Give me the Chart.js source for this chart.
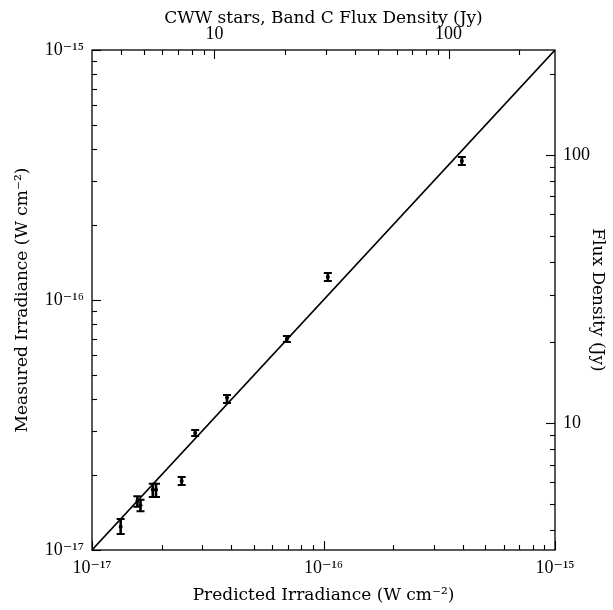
<!DOCTYPE html>
<html>
<head>
<meta charset="utf-8">
<script src="https://cdn.jsdelivr.net/npm/chart.js@4.4.1/dist/chart.umd.min.js"></script>
<style>
  html, body { margin: 0; padding: 0; background: #fff; }
  #wrap { width: 613px; height: 610px; }
</style>
</head>
<body>
<div id="wrap"><canvas id="c" width="613" height="610"></canvas></div>
<script>
// ---- data ----
const predicted = [1.33e-17, 1.57e-17, 1.62e-17, 1.83e-17, 1.89e-17, 2.44e-17, 2.79e-17, 3.83e-17, 6.95e-17, 1.044e-16, 3.96e-16];
const measured  = [1.24e-17, 1.57e-17, 1.51e-17, 1.74e-17, 1.74e-17, 1.89e-17, 2.94e-17, 4.06e-17, 6.98e-17, 1.236e-16, 3.60e-16];
const measuredLow  = [1.16e-17, 1.49e-17, 1.43e-17, 1.63e-17, 1.63e-17, 1.82e-17, 2.86e-17, 3.87e-17, 6.79e-17, 1.191e-16, 3.47e-16];
const measuredHigh = [1.33e-17, 1.64e-17, 1.59e-17, 1.84e-17, 1.84e-17, 1.96e-17, 3.02e-17, 4.17e-17, 7.17e-17, 1.282e-16, 3.73e-16];
const equalityLine = [1e-17, 1e-15];

// axis ranges
const irrMin = 1e-17, irrMax = 1e-15;
const topFluxMin = 3.0, topFluxMax = 285;
const rightFluxMin = 3.36, rightFluxMax = 246;

// tick values and labels
const irrTickValues = [1e-17,2e-17,3e-17,4e-17,5e-17,6e-17,7e-17,8e-17,9e-17,
                       1e-16,2e-16,3e-16,4e-16,5e-16,6e-16,7e-16,8e-16,9e-16,1e-15];
const irrMajorTicks = [1e-17, 1e-16, 1e-15];
const irrTickLabels = ['10\u207B\u00B9\u2077', '10\u207B\u00B9\u2076', '10\u207B\u00B9\u2075'];
const fluxTickValues = [4,5,6,7,8,9,10,20,30,40,50,60,70,80,90,100,200];
const fluxMajorTicks = [10, 100];
const fluxTickLabels = ['10', '100'];

const xTitle = 'Predicted Irradiance (W cm\u207B\u00B2)';
const yTitle = 'Measured Irradiance (W cm\u207B\u00B2)';
const topTitle = 'CWW stars, Band C Flux Density (Jy)';
const rightTitle = 'Flux Density (Jy)';

const TICKFONT = "'Liberation Serif', 'DejaVu Serif', serif";
const TITLEFONT = "'DejaVu Serif', 'Liberation Serif', serif";

function near(a, b) { return Math.abs(Math.log10(a) - Math.log10(b)) < 1e-6; }
function labelFor(v, majors, labels) {
  for (let i = 0; i < majors.length; i++) if (near(v, majors[i])) return labels[i];
  return '';
}
function setTicks(values) {
  return function(scale) { scale.ticks = values.map(v => ({ value: v })); };
}

const inwardTicks = {
  id: 'inwardTicks',
  afterDraw(chart) {
    const ctx = chart.ctx;
    const a = chart.chartArea;
    ctx.save();
    ctx.strokeStyle = '#000';
    ctx.lineWidth = 1.3;
    ctx.strokeRect(a.left, a.top, a.right - a.left, a.bottom - a.top);
    const cfg = [
      { id: 'x',  majors: irrMajorTicks,  side: 'bottom' },
      { id: 'y',  majors: irrMajorTicks,  side: 'left' },
      { id: 'x2', majors: fluxMajorTicks, side: 'top' },
      { id: 'y2', majors: fluxMajorTicks, side: 'right' }
    ];
    ctx.lineWidth = 1.1;
    cfg.forEach(c => {
      const s = chart.scales[c.id];
      s.ticks.forEach(t => {
        const major = c.majors.some(m => near(m, t.value));
        const len = major ? 9 : 5;
        const p = Math.round(s.getPixelForValue(t.value)) + 0.5;
        ctx.beginPath();
        if (c.side === 'bottom') { ctx.moveTo(p, a.bottom); ctx.lineTo(p, a.bottom - len); }
        if (c.side === 'top')    { ctx.moveTo(p, a.top);    ctx.lineTo(p, a.top + len); }
        if (c.side === 'left')   { ctx.moveTo(a.left, p);   ctx.lineTo(a.left + len, p); }
        if (c.side === 'right')  { ctx.moveTo(a.right, p);  ctx.lineTo(a.right - len, p); }
        ctx.stroke();
      });
    });
    ctx.restore();
  }
};

const errorBars = {
  id: 'errorBars',
  afterDatasetsDraw(chart) {
    const ctx = chart.ctx;
    const xs = chart.scales.x, ys = chart.scales.y;
    ctx.save();
    ctx.strokeStyle = '#000';
    for (let i = 0; i < predicted.length; i++) {
      const px = xs.getPixelForValue(predicted[i]);
      const yl = ys.getPixelForValue(measuredLow[i]);
      const yh = ys.getPixelForValue(measuredHigh[i]);
      ctx.lineWidth = 2.6;
      ctx.beginPath(); ctx.moveTo(px, yl); ctx.lineTo(px, yh); ctx.stroke();
      ctx.lineWidth = 2;
      ctx.beginPath();
      ctx.moveTo(px - 4, yl); ctx.lineTo(px + 4, yl);
      ctx.moveTo(px - 4, yh); ctx.lineTo(px + 4, yh);
      ctx.stroke();
    }
    ctx.restore();
  }
};

new Chart(document.getElementById('c'), {
  type: 'scatter',
  data: {
    datasets: [
      {
        label: 'Measured = Predicted',
        data: equalityLine.map(v => ({ x: v, y: v })),
        showLine: true,
        borderColor: '#000',
        borderWidth: 1.6,
        pointRadius: 0,
        xAxisID: 'x', yAxisID: 'y'
      },
      {
        label: 'CWW stars',
        data: predicted.map((v, i) => ({ x: v, y: measured[i] })),
        backgroundColor: '#000',
        borderColor: '#000',
        pointRadius: 2,
        pointBorderWidth: 0,
        xAxisID: 'x', yAxisID: 'y'
      }
    ]
  },
  options: {
    responsive: false,
    animation: false,
    devicePixelRatio: 1,
    layout: { padding: 0 },
    plugins: { legend: { display: false }, tooltip: { enabled: false } },
    scales: {
      x: {
        type: 'logarithmic', position: 'bottom', min: irrMin, max: irrMax,
        afterBuildTicks: setTicks(irrTickValues),
        afterFit: s => { s.height = 60; },
        grid: { display: false, drawTicks: false },
        border: { display: false },
        ticks: { autoSkip: false, maxRotation: 0, padding: 7, color: '#000',
                 font: { family: TICKFONT, size: 18 },
                 callback: v => labelFor(v, irrMajorTicks, irrTickLabels) },
        title: { display: true, text: xTitle, color: '#000', padding: { top: 0, bottom: 4 },
                 font: { family: TITLEFONT, size: 17 } }
      },
      y: {
        type: 'logarithmic', position: 'left', min: irrMin, max: irrMax,
        afterBuildTicks: setTicks(irrTickValues),
        afterFit: s => { s.width = 92; },
        grid: { display: false, drawTicks: false },
        border: { display: false },
        ticks: { autoSkip: false, padding: 8, color: '#000',
                 font: { family: TICKFONT, size: 18 },
                 callback: v => labelFor(v, irrMajorTicks, irrTickLabels) },
        title: { display: true, text: yTitle, color: '#000', padding: { top: 12, bottom: 0 },
                 font: { family: TITLEFONT, size: 17 } }
      },
      x2: {
        type: 'logarithmic', position: 'top', min: topFluxMin, max: topFluxMax,
        afterBuildTicks: setTicks(fluxTickValues),
        afterFit: s => { s.height = 50; },
        grid: { display: false, drawTicks: false },
        border: { display: false },
        ticks: { autoSkip: false, maxRotation: 0, padding: 5, color: '#000',
                 font: { family: TICKFONT, size: 18 },
                 callback: v => labelFor(v, fluxMajorTicks, fluxTickLabels) },
        title: { display: true, text: topTitle, color: '#000', padding: { top: 8, bottom: 0 },
                 font: { family: TITLEFONT, size: 17 } }
      },
      y2: {
        type: 'logarithmic', position: 'right', min: rightFluxMin, max: rightFluxMax,
        afterBuildTicks: setTicks(fluxTickValues),
        afterFit: s => { s.width = 58; },
        grid: { display: false, drawTicks: false },
        border: { display: false },
        ticks: { autoSkip: false, padding: 8, color: '#000',
                 font: { family: TICKFONT, size: 18 },
                 callback: v => labelFor(v, fluxMajorTicks, fluxTickLabels) },
        title: { display: true, text: rightTitle, color: '#000', padding: { top: 5, bottom: 0 },
                 font: { family: TITLEFONT, size: 17 } }
      }
    }
  },
  plugins: [inwardTicks, errorBars]
});
</script>
</body>
</html>
